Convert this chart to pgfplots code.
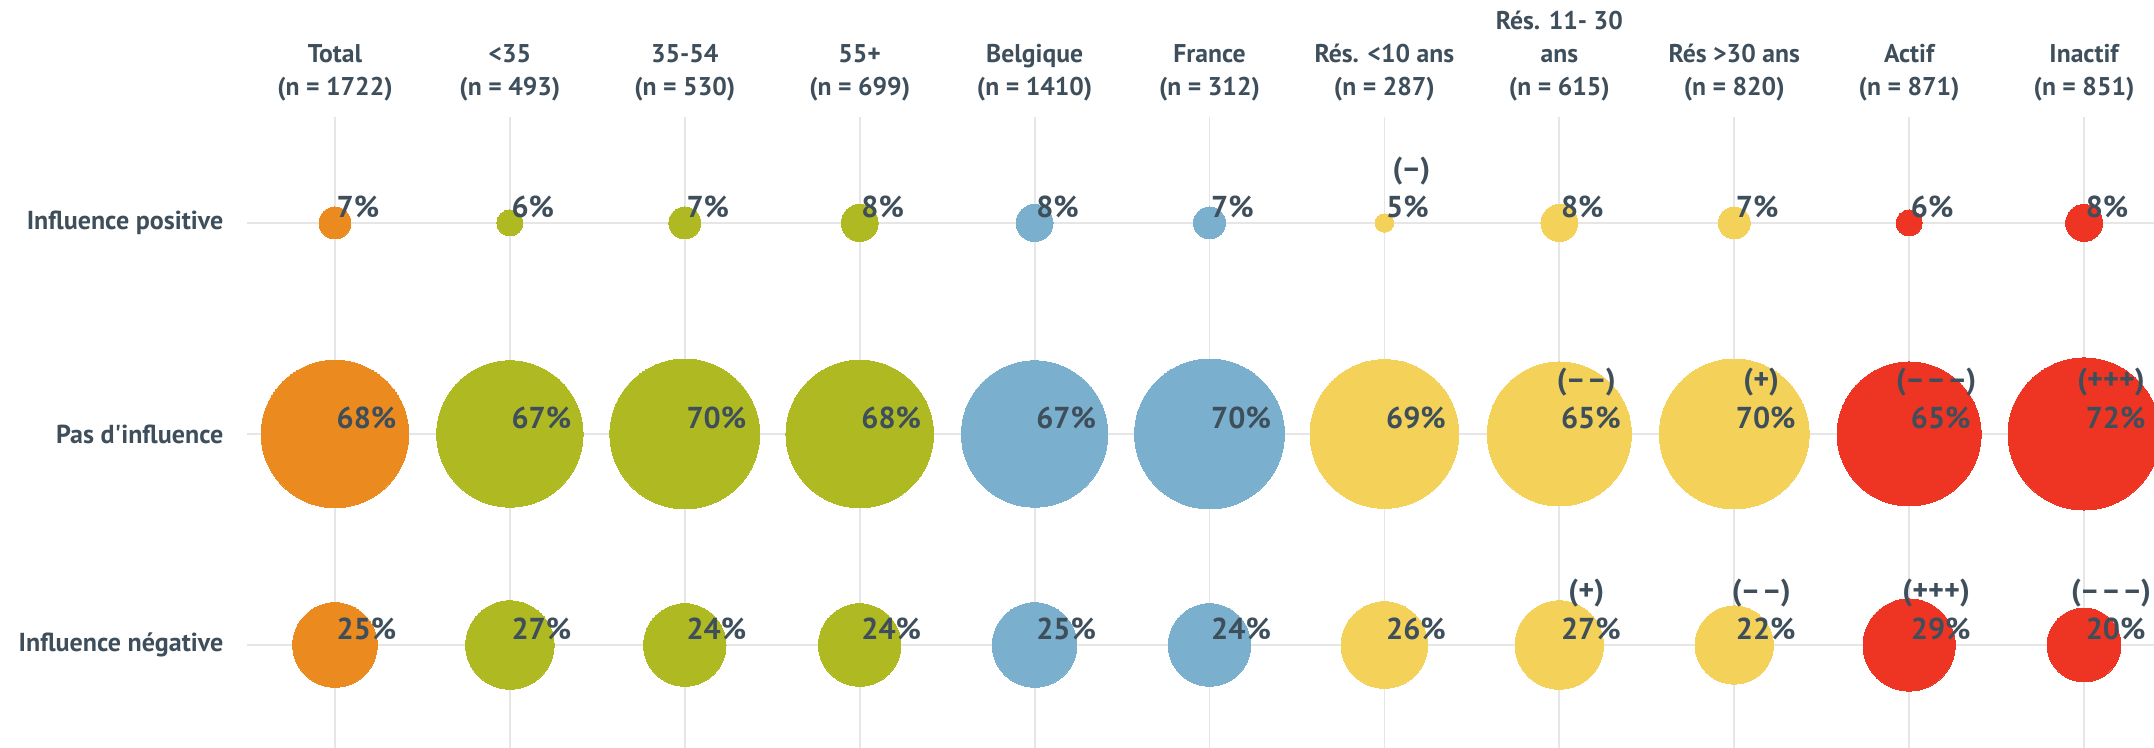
\documentclass[border=0pt]{standalone}
\usepackage{fontspec}
\setmainfont{PT Sans}
\newfontfamily\lab{PT Sans}
\usepackage{pgfplots}
\pgfplotsset{compat=1.18}
\usepackage{pgfplotstable}
\definecolor{cTot}{HTML}{EB8A1E}
\definecolor{cAge}{HTML}{AFBA22}
\definecolor{cPays}{HTML}{7BAFCE}
\definecolor{cRes}{HTML}{F4D25A}
\definecolor{cAct}{HTML}{EE3524}
\definecolor{txt}{HTML}{3E4F5B}
\definecolor{grd}{HTML}{E6E6E6}
\def\sma{(–)}
\def\smb{(–\kern.04em–)}
\def\smc{(–\kern.04em–\kern.04em–)}
\def\spa{(+)}
\def\spc{(+++)}
\pgfplotstableread{
x y v
0 3 7
1 3 6
2 3 7
3 3 8
4 3 8
5 3 7
6 3 5
7 3 8
8 3 7
9 3 6
10 3 8
0 2 68
1 2 67
2 2 70
3 2 68
4 2 67
5 2 70
6 2 69
7 2 65
8 2 70
9 2 65
10 2 72
0 1 25
1 1 27
2 1 24
3 1 24
4 1 25
5 1 24
6 1 26
7 1 27
8 1 22
9 1 29
10 1 20
}\data
\pgfplotstableread{
x y s
6 3 ma
7 2 mb
8 2 pa
9 2 mc
10 2 pc
7 1 pa
8 1 mb
9 1 pc
10 1 mc
}\sig
\pgfplotsset{
  bub/.style={only marks, scatter, mark=*,
    point meta=\thisrow{v},
    visualization depends on={0.142265*sqrt(340*(\thisrow{v}-4)) \as \rad},
    scatter/@pre marker code/.code={\scope[mark size=\rad pt, draw=#1, fill=#1, line width=0pt]},
    scatter/@post marker code/.code={\endscope},
  },
}
\begin{document}
\begin{tikzpicture}
\useasboundingbox (0,0) rectangle (21.54,7.48);
\begin{axis}[
  at={(2.47cm,0cm)}, anchor=south west,
  scale only axis, width=19.07cm, height=6.31cm,
  xmin=-0.503, xmax=10.4, ymin=0.512, ymax=3.502,
  clip=false,
  /pgf/number format/assume math mode=true,
  axis line style={draw=none},
  major tick length=0pt,
  xmajorgrids, ymajorgrids,
  grid style={grd, line width=0.18mm},
  xtick={0,...,10},
  xticklabel pos=upper,
  xticklabels={{Total\\(n = 1722)},{<35\\(n = 493)},{35-54\\(n = 530)},{55+\\(n = 699)},{Belgique\\(n = 1410)},{France\\(n = 312)},{Rés. <10 ans\\(n = 287)},{Rés. 11- 30\\ans\\(n = 615)},{Rés >30 ans\\(n = 820)},{Actif\\(n = 871)},{Inactif\\(n = 851)}},
  xticklabel style={align=center, anchor=south, inner sep=0pt, yshift=1.5mm, text=txt,
    font=\lab\fontsize{7.3}{9.4}\selectfont\bfseries},
  ytick={1,2,3},
  yticklabels={Influence négative, Pas d'influence, Influence positive},
  yticklabel style={anchor=east, inner sep=0pt, xshift=-2.3mm, text=txt,
    font=\lab\fontsize{7.4}{9.4}\selectfont\bfseries},
]
\addplot[bub=cTot, restrict x to domain=-0.5:0.5] table[x=x,y=y]{\data};
\addplot[bub=cAge, restrict x to domain=0.5:3.5] table[x=x,y=y]{\data};
\addplot[bub=cPays, restrict x to domain=3.5:5.5] table[x=x,y=y]{\data};
\addplot[bub=cRes, restrict x to domain=5.5:8.5] table[x=x,y=y]{\data};
\addplot[bub=cAct, restrict x to domain=8.5:10.5] table[x=x,y=y]{\data};
\addplot[only marks, mark=none, point meta=\thisrow{v},
  nodes near coords={\pgfmathprintnumber{\pgfplotspointmeta}\%},
  every node near coord/.style={anchor=west, inner sep=0pt, xshift=0.1mm, yshift=1.6mm,
    text=txt, font=\lab\fontsize{8.6}{10}\selectfont\bfseries}]
  table[x=x,y=y]{\data};
\addplot[only marks, mark=none, point meta=explicit symbolic,
  nodes near coords={\csname s\pgfplotspointmeta\endcsname},
  every node near coord/.style={anchor=center, inner sep=0pt, xshift=2.7mm, yshift=5.2mm,
    text=txt, font=\lab\fontsize{8.6}{10}\selectfont\bfseries}]
  table[x=x,y=y,meta=s]{\sig};
\end{axis}
\end{tikzpicture}
\end{document}
